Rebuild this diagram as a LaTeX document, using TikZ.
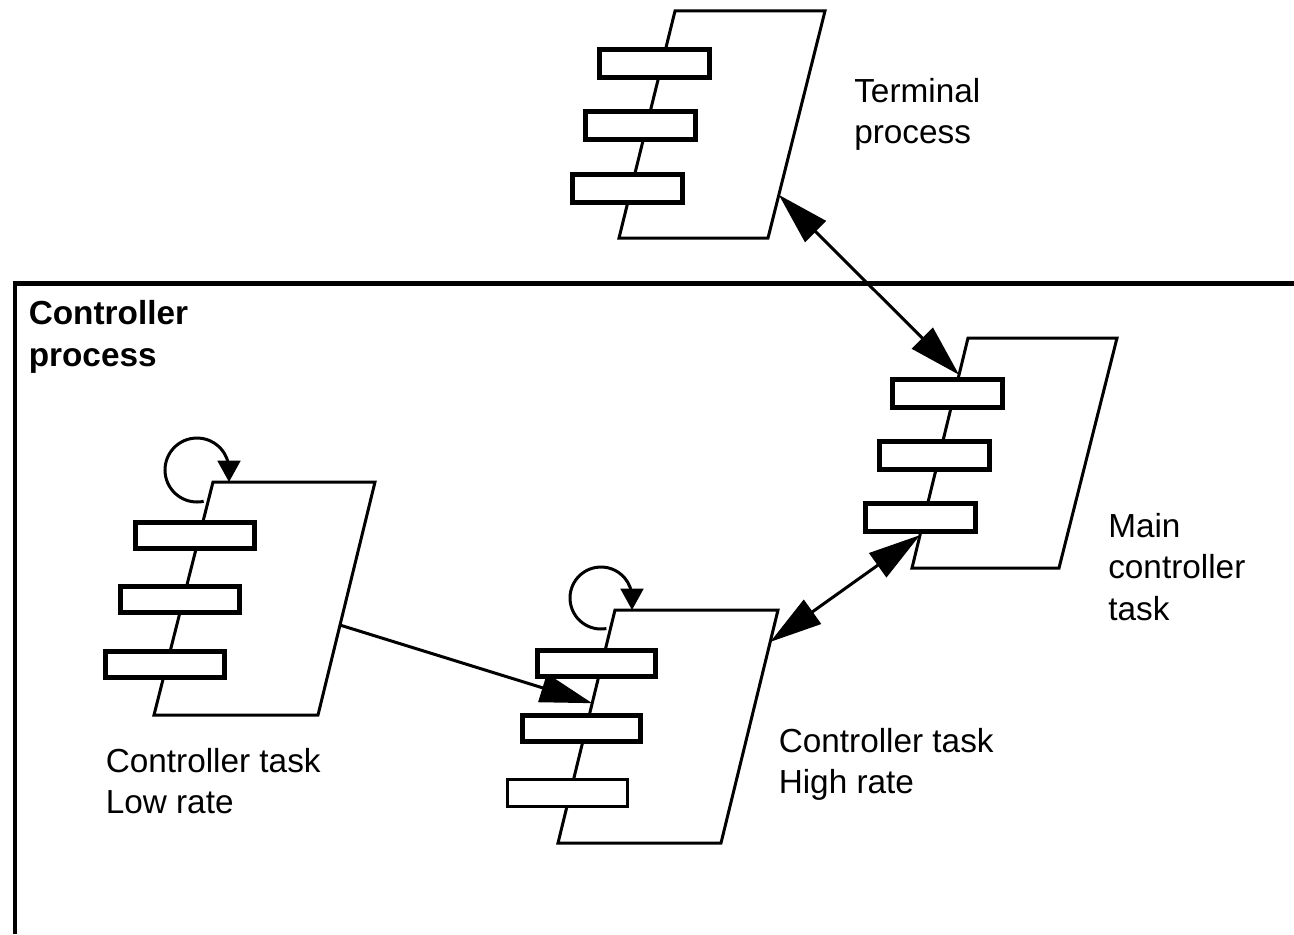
\documentclass[tikz,border=0pt]{standalone}
\usepackage{fontspec}
\setmainfont{Liberation Sans}
\usetikzlibrary{arrows.meta,calc}

\tikzset{
  taskshape/.style={draw, line width=2.25pt, fill=white, line join=miter},
  queuebox/.style={draw, fill=white, line width=3.75pt, inner sep=0pt,
    minimum width=82.5pt, minimum height=21pt},
  wideqbox/.style={queuebox, minimum width=89pt, minimum height=19.5pt},
  msglink/.style={line width=2.25pt,
    {Triangle[length=39pt,width=22pt]}-{Triangle[length=39pt,width=22pt]}},
  onewaylink/.style={line width=2.25pt, -{Triangle[length=39pt,width=22pt]}},
  loopback/.style={line width=2.25pt, -{Triangle[length=16pt,width=17pt]}},
  tasklabel/.style={anchor=north west, inner sep=0pt, align=left,
    font=\fontsize{25}{31}\selectfont},
}

\begin{document}
\begin{tikzpicture}[x=0.75pt,y=-0.75pt]
    \useasboundingbox (0,0) rectangle (1294,934);

    % controller process frame
    \draw[line width=3.5pt] (15,934) -- (15,283.5) -- (1294,283.5);
    \node[tasklabel, font=\bfseries\fontsize{25}{31}\selectfont] (ctrlproc) at (28.5,300.5) {Controller\\process};

    % task outlines
    \coordinate (term-tl) at (675,11);
    \coordinate (term-tr) at (825,11);
    \coordinate (term-br) at (768,238);
    \coordinate (term-bl) at (619,238);
    \draw[taskshape] (term-bl) -- (term-tl) -- (term-tr) -- (term-br) -- cycle;

    \coordinate (main-tl) at (968,338);
    \coordinate (main-tr) at (1117,338);
    \coordinate (main-br) at (1059,568);
    \coordinate (main-bl) at (912,568);
    \draw[taskshape] (main-bl) -- (main-tl) -- (main-tr) -- (main-br) -- cycle;

    \coordinate (low-tl) at (213,482);
    \coordinate (low-tr) at (375,482);
    \coordinate (low-br) at (318,715);
    \coordinate (low-bl) at (154,715);
    \draw[taskshape] (low-bl) -- (low-tl) -- (low-tr) -- (low-br) -- cycle;

    \coordinate (high-tl) at (615,610);
    \coordinate (high-tr) at (778,610);
    \coordinate (high-br) at (721,843);
    \coordinate (high-bl) at (558,843);
    \draw[taskshape] (high-bl) -- (high-tl) -- (high-tr) -- (high-br) -- cycle;

    % connection points
    \coordinate (term-out) at ($(term-tr)!0.81!(term-br)$);
    \coordinate (main-in) at ($(main-tl)!0.16!(main-bl)$);
    \coordinate (main-out) at ($(main-tl)!0.857!(main-bl)$);
    \coordinate (high-in) at ($(high-tr)!0.137!(high-br)$);
    \coordinate (low-out) at ($(low-tr)!0.614!(low-br)$);
    \coordinate (high-q) at ($(high-tl)!0.4!(high-bl)$);
    \coordinate (low-c) at (197,470);
    \coordinate (high-c) at (601,598);

    \draw[msglink] (term-out) -- (main-in);
    \draw[msglink] (main-out) -- (high-in);
    \draw[onewaylink] (low-out) -- (high-q);

    % self loops
    \draw[loopback] ($(low-c)+(78:32)$) arc[start angle=78, end angle=360, radius=32] -- ++(0,12);
    \draw[loopback] ($(high-c)+(80:31)$) arc[start angle=80, end angle=360, radius=31] -- ++(0,12);

    % message queues
    \node[queuebox] (term-q1) at (654.5,63.5) {};
    \node[queuebox] (term-q2) at (640.5,126) {};
    \node[queuebox] (term-q3) at (627.5,188.5) {};

    \node[queuebox] (main-q1) at (947,393.5) {};
    \node[queuebox] (main-q2) at (934,455) {};
    \node[queuebox] (main-q3) at (920.5,517.5) {};

    \node[wideqbox] (low-q1) at (195,535.5) {};
    \node[wideqbox] (low-q2) at (180,599.5) {};
    \node[wideqbox] (low-q3) at (165,664) {};

    \node[wideqbox] (high-q1) at (596.5,663.5) {};
    \node[wideqbox] (high-q2) at (581.5,728.5) {};
    \node[wideqbox, line width=2.25pt, minimum width=90pt, minimum height=20pt] (high-q3) at (567,793) {};

    % labels
    \node[tasklabel] (termlabel) at (854,77.7) {Terminal\\process};
    \node[tasklabel] (mainlabel) at (1108,513) {Main\\controller\\task};
    \node[tasklabel] (lowlabel) at (105.5,748) {Controller task\\Low rate};
    \node[tasklabel] (highlabel) at (778.5,728) {Controller task\\High rate};
\end{tikzpicture}
\end{document}
